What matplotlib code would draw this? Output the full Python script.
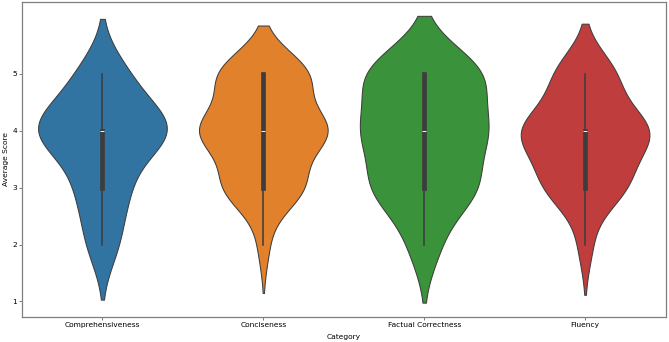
import numpy as np
import pandas as pd
import matplotlib
matplotlib.use("Agg")
import matplotlib.pyplot as plt
import seaborn as sns

categories = ["Comprehensiveness", "Conciseness", "Factual Correctness", "Fluency"]
score_levels = [2, 2.5, 3, 3.5, 4, 4.5, 5]
# number of responses at each average-score level, per category
counts_comprehensiveness = [2, 1, 3, 1, 9, 2, 3]
counts_conciseness = [1, 0, 7, 1, 11, 1, 8]
counts_factual = [2, 0, 7, 0, 8, 0, 8]
counts_fluency = [1, 0, 5, 2, 8, 1, 4]

all_counts = [counts_comprehensiveness, counts_conciseness, counts_factual, counts_fluency]
rows = []
for cat, cnts in zip(categories, all_counts):
    for lvl, c in zip(score_levels, cnts):
        rows += [(cat, lvl)] * c
df = pd.DataFrame(rows, columns=["Category", "Average Score"])

plt.rcParams['font.family'] = ['DejaVu Sans']
plt.rcParams['font.size'] = 5.4
fig = plt.figure(figsize=(6.69, 3.42), dpi=100)
ax = fig.add_axes([0.0329, 0.0731, 0.9619, 0.9225])
sns.violinplot(data=df, x="Category", y="Average Score", hue="Category",
               order=categories, hue_order=categories, legend=False, ax=ax,
               linewidth=0.75)
ax.set_yticks([1, 2, 3, 4, 5])
ax.set_xlabel("Category", fontsize=5.4, labelpad=4)
ax.set_ylabel("Average Score", fontsize=5.4, labelpad=2)
ax.tick_params(labelsize=5.4, length=2.2, width=0.6, color="#666666", pad=1.5)
for s in ax.spines.values():
    s.set_color("#808080")
    s.set_linewidth(0.9)
fig.savefig("out.png", dpi=100)
